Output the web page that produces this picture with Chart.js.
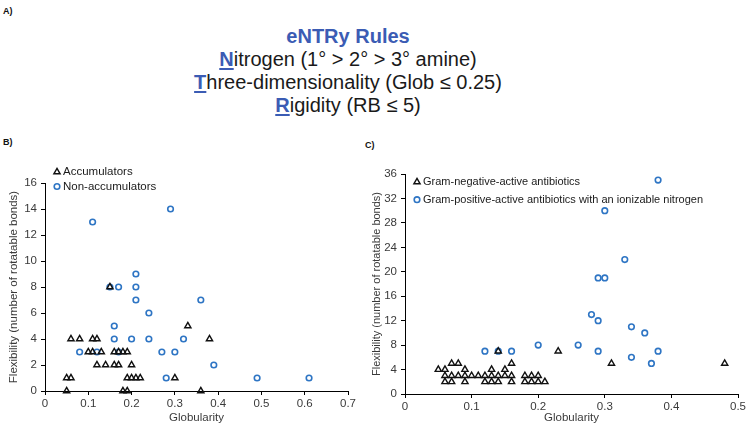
<!DOCTYPE html>
<html lang="en">
<head>
    <meta charset="UTF-8">
    <title>eNTRy Rules</title>
    <script src="https://cdn.jsdelivr.net/npm/chart.js"></script>
    <style>
        body {
            margin: 0;
            width: 750px;
            height: 429px;
            position: relative;
            background: #fff;
            font-family: "Liberation Sans", Arial, sans-serif;
            overflow: hidden;
        }
        .lab {
            position: absolute;
            font-size: 9px;
            font-weight: bold;
            color: #111;
        }
        #title {
            position: absolute;
            left: 0;
            width: 696px;
            top: 26px;
            text-align: center;
            font-size: 20px;
            line-height: 20px;
            font-weight: bold;
            color: #3b5cb4;
        }
        .rule {
            position: absolute;
            left: 0;
            width: 696px;
            text-align: center;
            font-family: "Liberation Sans Narrow", "Arial Narrow", "Liberation Sans", sans-serif;
            font-size: 20px;
            line-height: 20px;
            color: #1a1a1a;
        }
        .rule b {
            color: #3b5cb4;
            text-decoration: underline;
            text-decoration-thickness: 2px;
            text-underline-offset: 2px;
        }
        canvas {
            position: absolute;
        }
    </style>
</head>
<body>
    <div class="lab" style="left:3px; top:6px;">A)</div>
    <div id="title">eNTRy Rules</div>
    <div class="rule" style="top:49px;"><b>N</b>itrogen (1° &gt; 2° &gt; 3° amine)</div>
    <div class="rule" style="top:72px;"><b>T</b>hree-dimensionality (Glob ≤ 0.25)</div>
    <div class="rule" style="top:95px;"><b>R</b>igidity (RB ≤ 5)</div>

    <div class="lab" style="left:3px; top:137px;">B)</div>
    <div class="lab" style="left:365px; top:140px;">C)</div>

    <canvas id="chartB" width="360" height="289" style="left:0; top:140px;"></canvas>
    <canvas id="chartC" width="385" height="289" style="left:365px; top:140px;"></canvas>

    <script>
        // panel B
        const xTicksB = [0, 0.1, 0.2, 0.3, 0.4, 0.5, 0.6, 0.7];
        const yTicksB = [0, 2, 4, 6, 8, 10, 12, 14, 16];
        const accX = [0.05, 0.18, 0.19, 0.36,
                      0.05, 0.06, 0.19, 0.20, 0.21, 0.22, 0.30,
                      0.12, 0.14, 0.16, 0.17, 0.20,
                      0.10, 0.11, 0.13, 0.16, 0.17, 0.18, 0.19,
                      0.06, 0.08, 0.11, 0.12, 0.38,
                      0.33, 0.15];
        const accY = [0, 0, 0, 0,
                      1, 1, 1, 1, 1, 1, 1,
                      2, 2, 2, 2, 2,
                      3, 3, 3, 3, 3, 3, 3,
                      4, 4, 4, 4, 4,
                      5, 8];
        const nonX = [0.11, 0.29, 0.15, 0.17, 0.21, 0.21, 0.21, 0.36, 0.24, 0.16, 0.16, 0.20,
                      0.24, 0.32, 0.08, 0.12, 0.17, 0.27, 0.30, 0.39, 0.28, 0.49, 0.61];
        const nonY = [13, 14, 8, 8, 9, 8, 7, 7, 6, 5, 4, 4,
                      4, 4, 3, 3, 3, 3, 3, 2, 1, 1, 1];

        // panel C
        const xTicksC = [0, 0.1, 0.2, 0.3, 0.4, 0.5];
        const yTicksC = [0, 4, 8, 12, 16, 20, 24, 28, 32, 36];
        const negX = [0.06, 0.07, 0.09, 0.12, 0.13, 0.14, 0.16, 0.18, 0.19, 0.20, 0.21,
                      0.06, 0.07, 0.08, 0.09, 0.10, 0.11, 0.12, 0.13, 0.14, 0.15, 0.16, 0.18, 0.19, 0.20,
                      0.05, 0.06, 0.09, 0.13, 0.15,
                      0.07, 0.08, 0.16, 0.31, 0.48,
                      0.14, 0.23];
        const negY = [2, 2, 2, 2, 2, 2, 2, 2, 2, 2, 2,
                      3, 3, 3, 3, 3, 3, 3, 3, 3, 3, 3, 3, 3, 3,
                      4, 4, 4, 4, 4,
                      5, 5, 5, 5, 5,
                      7, 7];
        const posX = [0.38, 0.30, 0.33, 0.29, 0.30, 0.28, 0.29, 0.34, 0.36,
                      0.20, 0.26, 0.12, 0.14, 0.16, 0.29, 0.38, 0.34, 0.37];
        const posY = [35, 30, 22, 19, 19, 13, 12, 11, 10,
                      8, 8, 7, 7, 7, 7, 7, 6, 5];

        const FONT = '"Liberation Sans", Arial, sans-serif';
        const BLUE = '#2e75c4';
        const TEXT = '#3a3a3a';

        function points(xs, ys) {
            return xs.map((x, i) => ({ x: x, y: ys[i] }));
        }

        function fixedTicks(values) {
            return function (scale) {
                scale.ticks = values.map(v => ({ value: v }));
            };
        }

        function triangleSet(label, data) {
            return {
                label: label, data: data,
                pointStyle: 'triangle', pointRadius: 3.6, pointHoverRadius: 3.6,
                pointBorderWidth: 1.4, pointBorderColor: '#111',
                pointBackgroundColor: 'rgba(0,0,0,0)', clip: false
            };
        }

        function circleSet(label, data) {
            return {
                label: label, data: data,
                pointStyle: 'circle', pointRadius: 2.8, pointHoverRadius: 2.8,
                pointBorderWidth: 1.6, pointBorderColor: BLUE,
                pointBackgroundColor: 'rgba(0,0,0,0)', clip: false
            };
        }

        function drawMarker(ctx, ds, x, y) {
            const r = ds.pointRadius;
            ctx.lineWidth = ds.pointBorderWidth;
            ctx.strokeStyle = ds.pointBorderColor;
            ctx.beginPath();
            if (ds.pointStyle === 'triangle') {
                let a = 0;
                ctx.moveTo(x + Math.sin(a) * r, y - Math.cos(a) * r);
                a += 2 * Math.PI / 3;
                ctx.lineTo(x + Math.sin(a) * r, y - Math.cos(a) * r);
                a += 2 * Math.PI / 3;
                ctx.lineTo(x + Math.sin(a) * r, y - Math.cos(a) * r);
                ctx.closePath();
            } else {
                ctx.arc(x, y, r, 0, 2 * Math.PI);
            }
            ctx.stroke();
        }

        // legend drawn inside the plot, top left
        const insideLegend = {
            id: 'insideLegend',
            afterDraw(chart, args, opts) {
                const ctx = chart.ctx;
                ctx.save();
                ctx.font = opts.size + 'px ' + FONT;
                ctx.textBaseline = 'middle';
                chart.data.datasets.forEach((ds, i) => {
                    const y = opts.y + i * opts.gap;
                    drawMarker(ctx, ds, opts.x, y);
                    ctx.fillStyle = '#1a1a1a';
                    ctx.fillText(ds.label, opts.x + opts.textGap, y);
                });
                ctx.restore();
            }
        };

        function makeOptions(c) {
            return {
                responsive: false,
                animation: false,
                events: [],
                layout: { padding: { left: 0, right: c.padRight, top: c.padTop, bottom: 0 } },
                plugins: {
                    legend: { display: false },
                    tooltip: { enabled: false },
                    insideLegend: c.legend
                },
                scales: {
                    x: {
                        type: 'linear', min: c.xTicks[0], max: c.xTicks[c.xTicks.length - 1],
                        afterBuildTicks: fixedTicks(c.xTicks),
                        afterFit: s => { s.height = c.xHeight; },
                        grid: { drawOnChartArea: false, tickLength: 4, color: '#000', lineWidth: 1 },
                        border: { color: '#000', width: 1 },
                        ticks: { color: TEXT, padding: 2, autoSkip: false, maxRotation: 0,
                                 font: { family: FONT, size: 11.5 }, callback: v => String(v) },
                        title: { display: true, text: 'Globularity', color: TEXT,
                                 font: { family: FONT, size: 11.5 }, padding: { top: 0, bottom: 4 } }
                    },
                    y: {
                        type: 'linear', min: c.yTicks[0], max: c.yTicks[c.yTicks.length - 1],
                        afterBuildTicks: fixedTicks(c.yTicks),
                        afterFit: s => { s.width = c.yWidth; },
                        grid: { drawOnChartArea: false, tickLength: 4, color: '#000', lineWidth: 1 },
                        border: { color: '#000', width: 1 },
                        ticks: { color: TEXT, padding: 4, autoSkip: false,
                                 font: { family: FONT, size: 11.5 }, callback: v => String(v) },
                        title: { display: true, text: 'Flexibility (number of rotatable bonds)', color: TEXT,
                                 font: { family: FONT, size: c.yTitleSize }, padding: { top: c.yTitlePad, bottom: 0 } }
                    }
                }
            };
        }

        new Chart(document.getElementById('chartB'), {
            type: 'scatter',
            data: {
                datasets: [
                    triangleSet('Accumulators', points(accX, accY)),
                    circleSet('Non-accumulators', points(nonX, nonY))
                ]
            },
            options: makeOptions({
                xTicks: xTicksB, yTicks: yTicksB,
                padRight: 12, padTop: 43, xHeight: 38, yWidth: 45,
                yTitleSize: 11.5, yTitlePad: 7,
                legend: { x: 57, y: 32, gap: 14.5, size: 11.5, textGap: 6 }
            }),
            plugins: [insideLegend]
        });

        new Chart(document.getElementById('chartC'), {
            type: 'scatter',
            data: {
                datasets: [
                    triangleSet('Gram-negative-active antibiotics', points(negX, negY)),
                    circleSet('Gram-positive-active antibiotics with an ionizable nitrogen', points(posX, posY))
                ]
            },
            options: makeOptions({
                xTicks: xTicksC, yTicks: yTicksC,
                padRight: 12, padTop: 34, xHeight: 35, yWidth: 40,
                yTitleSize: 11, yTitlePad: 5,
                legend: { x: 52, y: 42, gap: 17.7, size: 11, textGap: 6 }
            }),
            plugins: [insideLegend]
        });
    </script>
</body>
</html>
